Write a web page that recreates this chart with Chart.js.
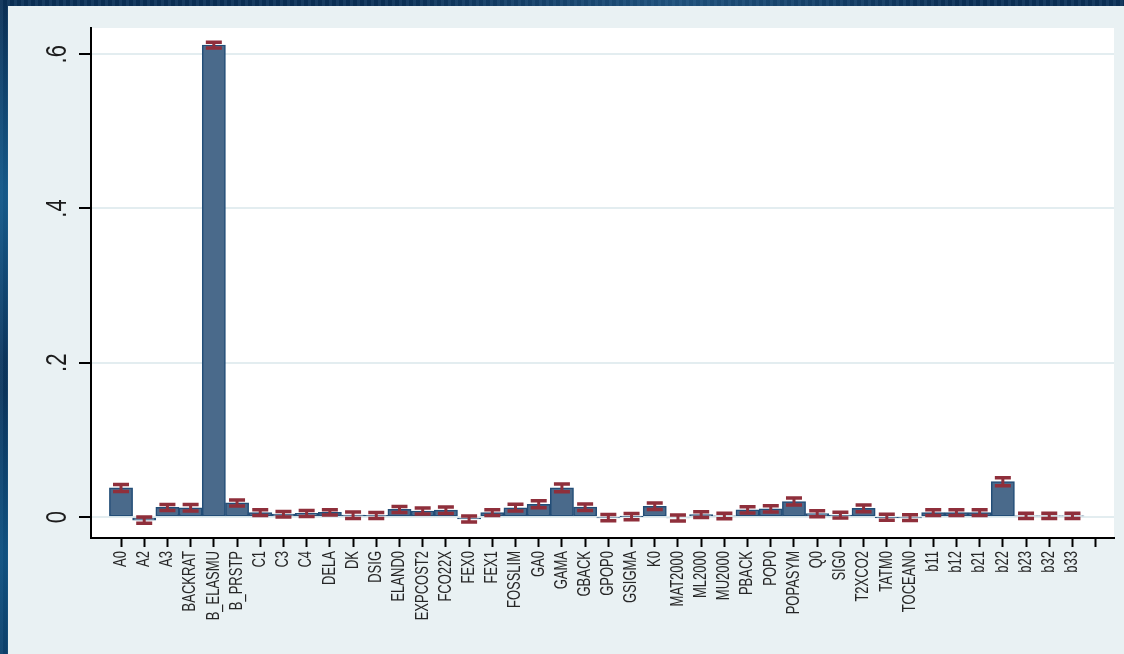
<!DOCTYPE html>
<html>
<head>
<meta charset="utf-8">
<script src="https://cdn.jsdelivr.net/npm/chart.js@4/dist/chart.umd.min.js"></script>
<style>
  html, body { margin: 0; padding: 0; }
  body {
    width: 1124px; height: 654px; overflow: hidden; position: relative;
    background:
      radial-gradient(ellipse at 3% 30%, rgba(30,120,175,0.6), rgba(0,0,0,0) 30%),
      radial-gradient(ellipse at 2% 85%, rgba(20,110,165,0.55), rgba(0,0,0,0) 25%),
      radial-gradient(ellipse at 60% 0%, rgba(60,130,180,0.4), rgba(0,0,0,0) 30%),
      repeating-linear-gradient(90deg, rgba(255,255,255,0.05) 0 3px, rgba(0,0,0,0.06) 3px 7px),
      #0b3158;
  }
  #panel { position: absolute; left: 8px; top: 6px; right: 0; bottom: 0; background: #e9f1f3; }
  #chart { position: absolute; left: 0; top: 0; }
</style>
</head>
<body>
<div id="panel"></div>
<canvas id="chart" width="1124" height="654"></canvas>
<script>
const names = ['A0','A2','A3','BACKRAT','B_ELASMU','B_PRSTP','C1','C3','C4','DELA','DK','DSIG',
  'ELAND0','EXPCOST2','FCO22X','FEX0','FEX1','FOSSLIM','GA0','GAMA','GBACK','GPOP0','GSIGMA','K0',
  'MAT2000','ML2000','MU2000','PBACK','POP0','POPASYM','Q0','SIG0','T2XCO2','TATM0','TOCEAN0',
  'b11','b12','b21','b22','b23','b32','b33'];

const means = [0.038, -0.004, 0.0125, 0.012, 0.612, 0.0183, 0.0058, 0.0037, 0.0047, 0.006, 0.0024, 0.0022,
  0.0099, 0.0078, 0.009, -0.0026, 0.0057, 0.012, 0.0166, 0.038, 0.0128, -0.0007, 0.0006, 0.014,
  -0.0013, 0.0032, 0.0014, 0.0093, 0.0106, 0.0201, 0.0043, 0.0024, 0.0112, -0.0004, -0.0007,
  0.0058, 0.0058, 0.0058, 0.0458, 0.0016, 0.0016, 0.0016];

const ciLow = [0.033, -0.008, 0.0086, 0.0078, 0.608, 0.0143, 0.0021, 0.0, 0.0008, 0.0026, -0.0018, -0.0018,
  0.006, 0.0039, 0.0047, -0.0065, 0.002, 0.0078, 0.012, 0.0328, 0.0086, -0.0048, -0.0035, 0.0099,
  -0.0052, -0.0005, -0.0022, 0.0052, 0.0065, 0.0155, 0.0004, -0.0013, 0.0069, -0.0043, -0.0044,
  0.0021, 0.0021, 0.0021, 0.0406, -0.0018, -0.0018, -0.0018];

const ciHigh = [0.042, 0.0, 0.0163, 0.0163, 0.6155, 0.022, 0.0095, 0.0073, 0.0086, 0.0095, 0.0065, 0.006,
  0.0137, 0.0117, 0.013, 0.0013, 0.0095, 0.0164, 0.0211, 0.0428, 0.0168, 0.0034, 0.0047, 0.0182,
  0.0026, 0.0069, 0.005, 0.0134, 0.0147, 0.0246, 0.0082, 0.0061, 0.0155, 0.0035, 0.003,
  0.0095, 0.0095, 0.0095, 0.051, 0.005, 0.005, 0.005];

const yTicks = [0, 0.2, 0.4, 0.6];
const yTickLabels = ['0', '.2', '.4', '.6'];

// one extra empty slot after the last name gets a bare tick mark
const slotCount = names.length + 1;

const FONT = '"Liberation Sans", Arial, sans-serif';

const plotBackground = {
  id: 'plotBackground',
  beforeDraw(chart) {
    const { ctx, chartArea: a } = chart;
    ctx.save();
    ctx.fillStyle = '#ffffff';
    ctx.fillRect(a.left, a.top, a.right - a.left, a.bottom - a.top);
    ctx.restore();
  }
};

const errorBars = {
  id: 'errorBars',
  afterDatasetsDraw(chart) {
    const { ctx, scales: { x, y } } = chart;
    ctx.save();
    ctx.strokeStyle = '#8f2f3b';
    ctx.lineCap = 'butt';
    for (let i = 0; i < means.length; i++) {
      const px = x.getPixelForValue(i);
      const top = y.getPixelForValue(ciHigh[i]);
      const bot = y.getPixelForValue(ciLow[i]);
      ctx.lineWidth = 3;
      ctx.beginPath();
      ctx.moveTo(px, top);
      ctx.lineTo(px, bot);
      ctx.stroke();
      ctx.lineWidth = 3.5;
      ctx.beginPath();
      ctx.moveTo(px - 8, top);
      ctx.lineTo(px + 8, top);
      ctx.moveTo(px - 8, bot);
      ctx.lineTo(px + 8, bot);
      ctx.stroke();
    }
    ctx.restore();
  }
};

// rotated text reading upwards, a little taller across than the plain font
function sideText(ctx, text, x, y, align, baseline, stretch) {
  ctx.save();
  ctx.translate(x, y);
  ctx.rotate(-Math.PI / 2);
  ctx.scale(1, stretch);
  ctx.textAlign = align;
  ctx.textBaseline = baseline;
  ctx.fillText(text, 0, 0);
  ctx.restore();
}

const axisLabels = {
  id: 'axisLabels',
  afterDraw(chart) {
    const { ctx, scales: { x, y } } = chart;
    ctx.save();
    ctx.fillStyle = '#1c1c1c';
    ctx.font = '22px ' + FONT;
    yTicks.forEach((v, i) => {
      sideText(ctx, yTickLabels[i], 66, y.getPixelForValue(v), 'center', 'alphabetic', 1.3);
    });
    ctx.fillStyle = '#262626';
    ctx.font = '13px ' + FONT;
    names.forEach((n, i) => {
      sideText(ctx, n, x.getPixelForValue(i), x.top + 13, 'right', 'middle', 1.35);
    });
    ctx.restore();
  }
};

new Chart(document.getElementById('chart').getContext('2d'), {
  type: 'bar',
  data: {
    datasets: [{
      data: means.map((v, i) => ({ x: i, y: v })),
      backgroundColor: '#4a6a8b',
      borderColor: '#224d77',
      borderWidth: 1.5,
      borderSkipped: false,
      barPercentage: 1,
      categoryPercentage: 1,
    }],
  },
  options: {
    responsive: false,
    animation: false,
    layout: { padding: { left: 0, top: 28, right: 10, bottom: 0 } },
    scales: {
      x: {
        type: 'linear',
        offset: false,
        min: -1.293,
        max: 42.79,
        afterBuildTicks: s => { s.ticks = Array.from({ length: slotCount }, (_, i) => ({ value: i })); },
        afterFit: s => { s.height = 116; s.paddingLeft = 0; s.paddingRight = 0; },
        grid: { offset: false, drawOnChartArea: false, drawTicks: true, tickLength: 9, tickColor: '#000', tickWidth: 2 },
        border: { color: '#000', width: 2 },
        ticks: { display: false },
      },
      y: {
        min: -0.0272,
        max: 0.634,
        afterBuildTicks: s => { s.ticks = yTicks.map(v => ({ value: v })); },
        afterFit: s => { s.width = 91; },
        grid: { color: '#e3edf0', lineWidth: 2, tickLength: 12, tickColor: '#000', tickWidth: 2 },
        border: { color: '#000', width: 2 },
        ticks: { display: false },
      },
    },
    plugins: {
      legend: { display: false },
      tooltip: { enabled: false },
    },
  },
  plugins: [plotBackground, errorBars, axisLabels],
});
</script>
</body>
</html>
